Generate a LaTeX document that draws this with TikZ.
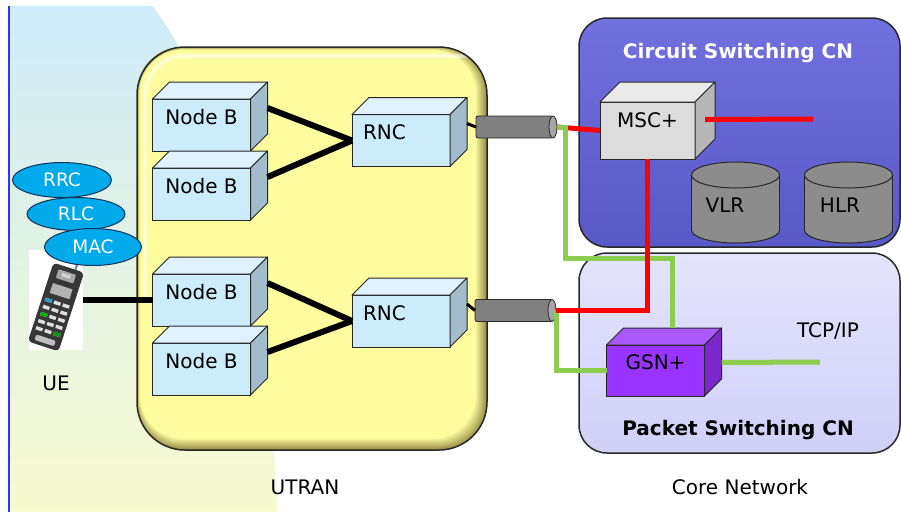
\documentclass[tikz,border=0pt]{standalone}
\usepackage{fontspec}
\setmainfont{DejaVu Sans}
\usetikzlibrary{calc, shapes.geometric}

\definecolor{nbfront}{RGB}{204,236,252}
\definecolor{nbtop}{RGB}{222,243,255}
\definecolor{nbside}{RGB}{162,188,204}
\definecolor{mscfront}{RGB}{220,220,220}
\definecolor{msctop}{RGB}{234,234,234}
\definecolor{mscside}{RGB}{182,182,182}
\definecolor{gsnfront}{RGB}{153,51,255}
\definecolor{gsntop}{RGB}{172,88,255}
\definecolor{gsnside}{RGB}{122,40,204}
\definecolor{boxline}{RGB}{40,40,40}
\definecolor{protofill}{RGB}{0,170,235}
\definecolor{protoline}{RGB}{20,50,90}
\definecolor{utranfill}{RGB}{255,252,160}
\definecolor{utranshade}{RGB}{150,142,70}
\definecolor{cstop}{RGB}{112,112,222}
\definecolor{csbot}{RGB}{88,88,198}
\definecolor{pstop}{RGB}{228,228,253}
\definecolor{psbot}{RGB}{208,208,248}
\definecolor{dbgray}{RGB}{140,140,140}
\definecolor{cablegray}{RGB}{128,128,128}
\definecolor{lgreen}{RGB}{140,205,80}
\definecolor{uebgtop}{RGB}{205,235,248}
\definecolor{uebgbot}{RGB}{248,250,208}
\definecolor{uelink}{RGB}{50,50,255}
\definecolor{phonebody}{RGB}{55,55,55}

% top and side faces of a 3d box drawn behind its front node
\newcommand{\boxfaces}[4][17]{%
  \filldraw[fill=#3, draw=boxline, line width=1pt, line join=round] (#2.north west) -- ++(#1,-#1) -- ($(#2.north east)+(#1,-#1)$) -- (#2.north east) -- cycle;
  \filldraw[fill=#4, draw=boxline, line width=1pt, line join=round] (#2.north east) -- ++(#1,-#1) -- ($(#2.south east)+(#1,-#1)$) -- (#2.south east) -- cycle;
  \coordinate (#2-back) at ($(#2.east)+(#1,-#1)$);
}
% open end of a cable
\newcommand{\cableend}[1]{%
  \filldraw[fill=cablegray!70!white, draw=boxline, line width=0.8pt] (#1.east) ellipse [x radius=4, y radius=11];
  \coordinate (#1-end) at ($(#1.east)+(4,0)$);
}

\begin{document}
\begin{tikzpicture}[x=1pt, y=-1pt,
    box/.style={draw=boxline, line width=1pt, inner sep=0pt, outer sep=0pt, minimum width=98pt, minimum height=52pt, text height=14pt, text depth=16pt, font=\fontsize{20}{24}\selectfont},
    nodeb/.style={box, fill=nbfront},
    rnc/.style={box, fill=nbfront, text width=76pt, align=left},
    msc/.style={box, fill=mscfront, minimum width=95pt, minimum height=57pt, text depth=21pt},
    gsn/.style={box, fill=gsnfront, minimum height=51pt},
    proto/.style={ellipse, draw=protoline, line width=1pt, fill=protofill, text=white, inner sep=0pt, font=\fontsize{18.5}{22}\selectfont},
    cable/.style={rectangle, draw=boxline, line width=0.8pt, fill=cablegray, rounded corners=2pt, minimum width=77pt, minimum height=22pt, inner sep=0pt, outer sep=0pt},
    lbl/.style={inner sep=0pt, font=\fontsize{20}{24}\selectfont},
    title/.style={inner sep=0pt, font=\bfseries\fontsize{20}{24}\selectfont},
    blink/.style={line width=6pt},
    stub/.style={line width=3pt},
    rline/.style={line width=5pt, red},
    gline/.style={line width=5pt, lgreen}]
    \useasboundingbox (0,0) rectangle (901,512);
    \fill[white] (0,0) rectangle (901,512);

    % UE area
    \shade[top color=uebgtop, bottom color=uebgbot] (9,6) -- (152,6) .. controls (205,70) and (268,250) .. (277,512) -- (9,512) -- cycle;
    \draw[uelink, line width=2.5pt] (9,6) -- (9,512);

    % UTRAN
    \fill[utranshade, rounded corners=48] (137,47) rectangle (487,450);
    \foreach \i in {1,...,10}
        \fill[utranfill!\i0!utranshade, rounded corners=44] (137+\i*0.3,47+\i*0.3) rectangle (487-\i*1.1,450-\i*1.1);
    \draw[white, opacity=0.5, line width=4pt, rounded corners=40] (145,300) |- (470,56);
    \draw[boxline, line width=1.5pt, rounded corners=48] (137,47) rectangle (487,450);

    % core network
    \draw[boxline, line width=1.5pt, top color=cstop, bottom color=csbot, rounded corners=28] (579,18) rectangle (900,247);
    \draw[boxline, line width=1.5pt, top color=pstop, bottom color=psbot, rounded corners=28] (579,253) rectangle (900,453);
    \node[title, text=white] (cs) at (738,53) {Circuit Switching CN};
    \node[title] (ps) at (738,430) {Packet Switching CN};

    \foreach \cx/\nm/\lbl/\tx in {735.5/vlr/VLR/725, 848.5/hlr/HLR/840} {
        \filldraw[fill=dbgray, draw=boxline, line width=1pt] (\cx,230) ellipse [x radius=44, y radius=13];
        \fill[dbgray] (\cx-44,175) rectangle (\cx+44,230);
        \draw[boxline, line width=1pt] (\cx-44,175) -- (\cx-44,230) (\cx+44,175) -- (\cx+44,230);
        \filldraw[fill=dbgray, draw=boxline, line width=1pt] (\cx,175) ellipse [x radius=44, y radius=13];
        \node[lbl] (\nm) at (\tx,205) {\lbl};
    }

    % phone
    \node[fill=white, minimum width=54pt, minimum height=100pt, inner sep=0pt, outer sep=0pt] (ue) at (56,300) {};
    \begin{scope}[shift={(56,307)}, rotate=-18, scale=1.15]
        \draw[gray, line width=2pt] (6,-36) -- (6,-42);
        \fill[phonebody, rounded corners=4] (-14,-36) rectangle (14,36);
        \fill[gray!70, rounded corners=1] (-8,-32) rectangle (8,-24);
        \fill[gray!35] (-4,-30) rectangle (4,-27);
        \fill[gray!60] (-9,-19) rectangle (9,-10);
        \foreach \r in {0,...,4}
            \foreach \c in {-1,0,1}
                \fill[gray!25] (\c*8-3,-5+\r*6.5) rectangle (\c*8+3,-2+\r*6.5);
        \fill[cyan!80!black] (-11,-5) rectangle (-5,-2);
        \fill[green!70!black] (-11,8) rectangle (-5,11);
        \fill[green!60!black] (5,21) rectangle (11,24);
        \fill[gray!50, rounded corners=2] (-9,28) rectangle (9,33);
    \end{scope}
    \node[lbl] (uelbl) at (56,383) {UE};

    \node[proto, minimum width=99pt, minimum height=35pt] (rrc) at (62,180) {RRC};
    \node[proto, minimum width=98pt, minimum height=33pt] (rlc) at (76,214) {RLC};
    \node[proto, minimum width=97pt, minimum height=37pt] (mac) at (93,247) {MAC};

    % nodes
    \node[nodeb] (nb1) at (201.5,125) {Node B};
    \boxfaces{nb1}{nbtop}{nbside}
    \node[nodeb] (nb2) at (201.5,194) {Node B};
    \boxfaces{nb2}{nbtop}{nbside}
    \node[nodeb] (nb3) at (201.5,300) {Node B};
    \boxfaces{nb3}{nbtop}{nbside}
    \node[nodeb] (nb4) at (201.5,369) {Node B};
    \boxfaces{nb4}{nbtop}{nbside}
    \node[rnc] (rnc1) at (401,140.5) {RNC};
    \boxfaces{rnc1}{nbtop}{nbside}
    \node[rnc] (rnc2) at (401,321) {RNC};
    \boxfaces{rnc2}{nbtop}{nbside}
    \node[msc] (msc) at (647.5,130.5) {MSC+};
    \boxfaces[20]{msc}{msctop}{mscside}
    \node[gsn] (gsn) at (655.5,370.5) {GSN+};
    \boxfaces{gsn}{gsntop}{gsnside}

    \node[cable] (c1) at (514.5,127) {};
    \cableend{c1}
    \node[cable] (c2) at (513.5,310.5) {};
    \cableend{c2}

    \coordinate (msc-red) at ($(msc.east)+(10,-11)$);
    \coordinate (cswire) at (813,119);
    \coordinate (gsn-topback) at ($(gsn.north)+(17,-17)$);
    \coordinate (gsn-tcp) at ($(gsn.east)+(17,-8)$);
    \coordinate (tcpend) at (820,362);
    \node[lbl] (tcp) at (828,331) {TCP/IP};

    % links
    \draw[blink] (ue.east) -- (nb3.west);
    \draw[blink] (nb1-back) -- (rnc1.west);
    \draw[blink] (nb2-back) -- (rnc1.west);
    \draw[blink] (nb3-back) -- (rnc2.west);
    \draw[blink] (nb4-back) -- (rnc2.west);
    \draw[stub] (rnc1-back) -- (c1.west);
    \draw[stub] (rnc2-back) -- (c2.west);

    \draw[rline] (c1-end) -- (msc.west);
    \draw[rline] (msc-red) -- (cswire);
    \draw[gline] (c1-end) -- ++(8,0) -- ++(0,131) -| (gsn-topback);
    \draw[gline] (c2-end) |- (gsn.west);
    \draw[gline] (gsn-tcp) -- (tcpend);
    \draw[rline] (msc.south) |- (c2-end);

    \node[lbl] (utran) at (305,487) {UTRAN};
    \node[lbl] (core) at (740,487) {Core Network};
\end{tikzpicture}
\end{document}
